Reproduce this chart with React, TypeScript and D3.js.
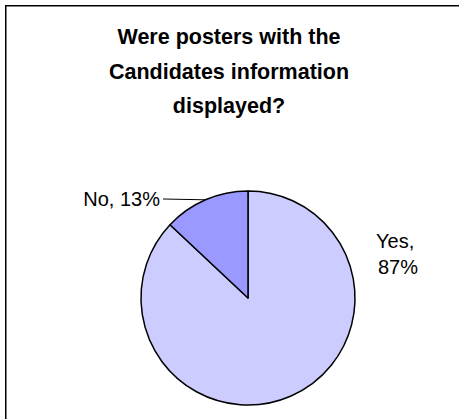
import React from "react";
import * as d3 from "d3";

const categories = ["Yes", "No"];
const values = [87, 13];
const colors = ["#CCCCFF", "#9999FF"];
const titleLines = ["Were posters with the", "Candidates information", "displayed?"];

const W = 459;
const H = 419;
const cx = 248;
const cy = 298;
const R = 107;

export default function App() {
  const pie = d3.pie<number>().sort(null).startAngle(0).endAngle(2 * Math.PI);
  const arcs = pie(values);
  const arc = d3.arc<d3.PieArcDatum<number>>().innerRadius(0).outerRadius(R);
  const edge = d3.arc<d3.PieArcDatum<number>>().innerRadius(R).outerRadius(R);

  const noArc = arcs[1];
  const [nx, ny] = edge.centroid(noArc);

  const font = "Arial, 'Liberation Sans', sans-serif";

  return (
    <svg
      width={W}
      height={H}
      style={{ position: "absolute", left: 0, top: 0, background: "#fff" }}
    >
      <rect x={5.75} y={5.75} width={W + 20} height={H + 20} fill="#fff" stroke="#000" strokeWidth={1.5} />
      <g fontFamily={font} fontWeight="bold" fontSize={21.5} textAnchor="middle" fill="#000">
        {titleLines.map((t, i) => (
          <text key={i} x={229} y={44 + i * 34.5}>
            {t}
          </text>
        ))}
      </g>
      <g transform={`translate(${cx},${cy})`}>
        {arcs.map((a, i) => (
          <path key={categories[i]} d={arc(a) || ""} fill={colors[i]} stroke="#000" strokeWidth={1.5} strokeLinejoin="round" />
        ))}
        <line x1={nx} y1={ny} x2={163 - cx} y2={199 - cy} stroke="#000" strokeWidth={1} />
      </g>
      <g fontFamily={font} fontSize={20} fill="#000">
        <text x={160} y={206} textAnchor="end">
          {`${categories[1]}, ${values[1]}%`}
        </text>
        <text x={376} y={248} textAnchor="start">
          {`${categories[0]},`}
        </text>
        <text x={378} y={274} textAnchor="start">
          {`${values[0]}%`}
        </text>
      </g>
    </svg>
  );
}
